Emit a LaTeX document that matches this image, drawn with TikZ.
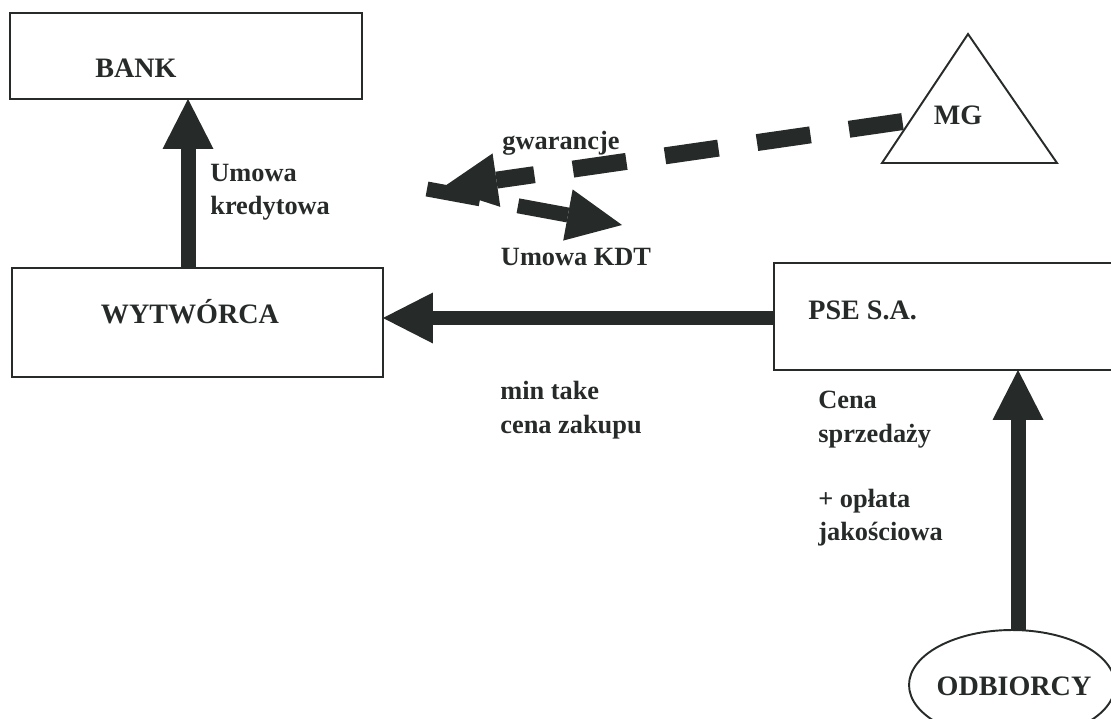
\documentclass[tikz,border=0pt]{standalone}
\usepackage{fontspec}
\setmainfont{Liberation Serif}
\usetikzlibrary{arrows.meta,calc,shapes.geometric}
\definecolor{ink}{HTML}{262A29}
\tikzset{
	frame/.style={draw=ink, line width=1.1pt, inner sep=0pt, outer sep=0pt},
	boxtext/.style={text=ink, inner sep=0pt, font=\fontsize{16}{19}\selectfont\bfseries},
	lbl/.style={text=ink, inner sep=0pt, align=left, font=\fontsize{15}{19}\selectfont\bfseries},
	bigarrow/.style={draw=ink, line width=0.3cm, -{Triangle[length=1cm,width=1.02cm,line width=0pt]}}
}

\begin{document}
\begin{tikzpicture}[x=0.02cm,y=-0.02cm]
		\useasboundingbox (0,0) rectangle (1111,719);
		\clip (0,0) rectangle (1111,719);
		% boxes
		\node[frame, minimum width=7.04cm, minimum height=1.72cm] (bank) at (186,56) {};
		\node[boxtext, anchor=west] (banklbl) at (95,68) {BANK};
		\node[frame, minimum width=7.42cm, minimum height=2.18cm] (wyt) at (197.5,322.5) {};
		\node[boxtext] (wytlbl) at (190,312) {WYTWÓRCA};
		\node[frame, minimum width=7.32cm, minimum height=2.14cm] (pse) at (957,316.5) {};
		\node[boxtext, anchor=west] (pselbl) at (808,310) {PSE S.A.};
		\node[frame, ellipse, minimum width=4.12cm, minimum height=2.2cm] (odb) at (1012,685) {};
		\node[boxtext] (odblbl) at (1014,686) {ODBIORCY};
		% triangle
		\coordinate (mgtop) at (968,34);
		\coordinate (mgleft) at (882,163);
		\coordinate (mgright) at (1057,163);
		\draw[ink, line width=1.1pt] (mgtop) -- (mgright) -- (mgleft) -- cycle;
		\node[boxtext] (mglbl) at (958,115) {MG};
		% solid arrows
		\coordinate (upA) at (188,0);
		\coordinate (across) at (0,318);
		\coordinate (upC) at (1018,0);
		\draw[bigarrow] (wyt.north -| upA) -- (bank.south -| upA);
		\draw[bigarrow] (pse.west |- across) -- (wyt.east |- across);
		\draw[bigarrow] (odb.north -| upC) -- (pse.south -| upC);
		% Umowa KDT and gwarancje
		\coordinate (kdttail) at (427,189);
		\coordinate (kdttip) at (622,225);
		\draw[bigarrow, line width=0.3cm, dash pattern=on 1.08cm off 0.77cm on 10cm, -{Triangle[length=1.1cm,width=1.04cm,line width=0pt]}] (kdttail) -- (kdttip);
		\coordinate (gstart) at ($(mgleft)!0.33!(mgtop)$);
		\coordinate (gtip) at (442,188);
		\draw[bigarrow, line width=0.34cm, dash pattern=on 1.08cm off 0.78cm, shorten <=0.16cm, -{Triangle[length=1.1cm,width=1.08cm,line width=0pt]}] (gstart) -- (gtip);
		% labels
		\node[lbl, anchor=west] (kredlbl) at (210,192) {Umowa\\kredytowa};
		\node[lbl] (gwarlbl) at (561,143) {gwarancje};
		\node[lbl] (kdtlbl) at (576,257) {Umowa KDT};
		\node[lbl, anchor=west] (zakuplbl) at (500,410) {min take\\cena zakupu};
		\node[lbl, anchor=north west] (sprzedlbl) at (818,391) {Cena\\sprzedaży\\[18pt]+ opłata\\jakościowa};
\end{tikzpicture}
\end{document}
